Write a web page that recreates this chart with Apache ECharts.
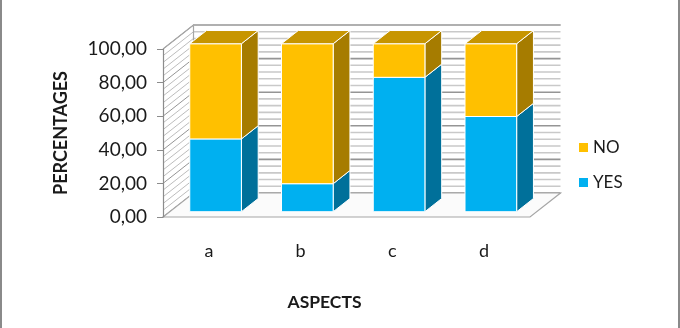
<!DOCTYPE html>
<html>
<head>
<meta charset="utf-8">
<script src="https://cdn.jsdelivr.net/npm/echarts@6/dist/echarts.min.js"></script>
<style>
  html, body { margin: 0; padding: 0; background: #ffffff; }
  #chart { width: 680px; height: 328px; }
</style>
</head>
<body>
<div id="chart"></div>
<script>
// Survey answers per aspect, in percent
const categories = ['a', 'b', 'c', 'd'];
const yesValues = [43.33, 16.67, 80.00, 56.67];
const noValues = [56.67, 83.33, 20.00, 43.33];
const seriesNames = ['NO', 'YES'];

// Pseudo-3D layout: depth vector of the plot box and the bar slab inside it
const DEPTH = [30.5, -24];
const BAR_FRONT = 0.22;   // fraction of depth where the bar front faces sit
const BAR_DEPTH = 0.55;   // fraction of depth taken by a bar
const BAR_RATIO = 0.563;  // bar width relative to a category band

const FONT = 'Lato, "Open Sans", sans-serif';

const chart = echarts.init(document.getElementById('chart'), null, { renderer: 'canvas' });

function fmt(v) {
  return v.toFixed(2).replace('.', ',');
}

// Walls, floor and gridlines of the 3D box
function renderWalls(params, api) {
  const cs = params.coordSys;
  const L = cs.x, R = cs.x + cs.width;
  const dx = DEPTH[0], dy = DEPTH[1];
  const yOf = v => api.coord([0, v])[1];
  const y0 = yOf(0), y100 = yOf(100);
  const children = [];

  // back wall
  children.push({
    type: 'polygon',
    shape: { points: [[L + dx, y100 + dy], [R + dx, y100 + dy], [R + dx, y0 + dy], [L + dx, y0 + dy]] },
    style: { fill: '#ffffff' }
  });
  // left wall
  children.push({
    type: 'polygon',
    shape: { points: [[L, y100], [L + dx, y100 + dy], [L + dx, y0 + dy], [L, y0]] },
    style: { fill: '#ffffff' }
  });
  for (let v = 0; v <= 100; v += 4) {
    const major = v % 20 === 0;
    const y = yOf(v);
    children.push({
      type: 'line',
      shape: { x1: L + dx, y1: y + dy, x2: R + dx, y2: y + dy },
      style: { stroke: major ? '#959595' : '#c9c9c9', lineWidth: 1.6 }
    });
    children.push({
      type: 'line',
      shape: { x1: L, y1: y, x2: L + dx, y2: y + dy },
      style: { stroke: major ? '#959595' : '#bdbdbd', lineWidth: 1 }
    });
  }
  // left wall outline
  children.push({
    type: 'polyline',
    shape: { points: [[L, y100], [L + dx, y100 + dy], [L + dx, y0 + dy]] },
    style: { stroke: '#a6a6a6', lineWidth: 1.2, fill: null }
  });
  children.push({
    type: 'line',
    shape: { x1: L + dx, y1: y100 + dy, x2: R + dx, y2: y100 + dy },
    style: { stroke: '#b0b0b0', lineWidth: 1.5 }
  });
  // floor
  children.push({
    type: 'polygon',
    shape: { points: [[L, y0], [R, y0], [R + dx, y0 + dy], [L + dx, y0 + dy]] },
    style: { fill: '#fbfbfb', stroke: '#a6a6a6', lineWidth: 1.2 }
  });
  return { type: 'group', children: children };
}

// One stacked segment of a 3D bar
function makeBarRenderer(front, side, top, isTop) {
  return function (params, api) {
    const i = api.value(0), v0 = api.value(1), v1 = api.value(2);
    const p0 = api.coord([i, v0]);
    const p1 = api.coord([i, v1]);
    const band = api.size([1, 0])[0];
    const hw = band * BAR_RATIO / 2;
    const fx = DEPTH[0] * BAR_FRONT, fy = DEPTH[1] * BAR_FRONT;
    const sx = DEPTH[0] * BAR_DEPTH, sy = DEPTH[1] * BAR_DEPTH;
    const x1 = p0[0] - hw + fx, x2 = p0[0] + hw + fx;
    const yb = p0[1] + fy, yt = p1[1] + fy;
    const edge = { stroke: '#ffffff', lineWidth: 1 };
    const children = [
      {
        type: 'polygon',
        shape: { points: [[x2, yb], [x2, yt], [x2 + sx, yt + sy], [x2 + sx, yb + sy]] },
        style: Object.assign({ fill: side }, edge)
      },
      {
        type: 'rect',
        shape: { x: x1, y: yt, width: x2 - x1, height: yb - yt },
        style: Object.assign({ fill: front }, edge)
      }
    ];
    if (isTop) {
      children.push({
        type: 'polygon',
        shape: { points: [[x1, yt], [x2, yt], [x2 + sx, yt + sy], [x1 + sx, yt + sy]] },
        style: Object.assign({ fill: top }, edge)
      });
    }
    return { type: 'group', children: children };
  };
}

const yesData = categories.map((c, i) => [i, 0, yesValues[i]]);
const noData = categories.map((c, i) => [i, yesValues[i], yesValues[i] + noValues[i]]);

const option = {
  backgroundColor: '#ffffff',
  animation: false,
  textStyle: { fontFamily: FONT },
  grid: { left: 163, right: 150, top: 49, bottom: 111, containLabel: false },
  legend: {
    data: seriesNames,
    orient: 'vertical',
    left: 574,
    top: 134,
    itemWidth: 9,
    itemHeight: 9,
    itemGap: 18,
    icon: 'rect',
    textStyle: { fontFamily: FONT, fontSize: 17, color: '#1a1a1a' }
  },
  xAxis: {
    type: 'category',
    data: categories,
    boundaryGap: true,
    axisLine: { show: false },
    axisTick: { show: false },
    axisLabel: { margin: 25, fontSize: 18, color: '#1a1a1a', fontFamily: FONT },
    splitLine: { show: false },
    name: 'ASPECTS',
    nameLocation: 'middle',
    nameGap: 76,
    nameTextStyle: { fontSize: 17.5, fontWeight: 'bold', color: '#1a1a1a', fontFamily: FONT, padding: [0, 44, 0, 0] }
  },
  yAxis: {
    type: 'value',
    min: 0,
    max: 100,
    interval: 20,
    axisLine: { show: true, lineStyle: { color: '#8c8c8c', width: 1.2 } },
    axisTick: { show: true, length: 6, lineStyle: { color: '#8c8c8c' } },
    axisLabel: { margin: 16, fontSize: 19, color: '#1a1a1a', fontFamily: FONT, formatter: fmt },
    splitLine: { show: false },
    name: 'PERCENTAGES',
    nameLocation: 'middle',
    nameRotate: 90,
    nameGap: 93,
    nameTextStyle: { fontSize: 18, fontWeight: 'bold', color: '#1a1a1a', fontFamily: FONT }
  },
  graphic: [
    { type: 'rect', left: 0, top: 0, shape: { x: 0, y: 0, width: 2, height: 328 }, style: { fill: '#8a8a8a' }, silent: true },
    { type: 'rect', right: 0, top: 0, shape: { x: 0, y: 0, width: 2, height: 328 }, style: { fill: '#8a8a8a' }, silent: true }
  ],
  series: [
    {
      name: 'walls',
      type: 'custom',
      silent: true,
      z: 0,
      renderItem: renderWalls,
      data: [[0, 0]],
      encode: { x: 0, y: 1 }
    },
    {
      name: 'YES',
      type: 'custom',
      z: 2,
      itemStyle: { color: '#00B0F0' },
      renderItem: makeBarRenderer('#00B0F0', '#00709A', '#0090C4', false),
      data: yesData,
      encode: { x: 0, y: 2 }
    },
    {
      name: 'NO',
      type: 'custom',
      z: 3,
      itemStyle: { color: '#FFC000' },
      renderItem: makeBarRenderer('#FFC000', '#A67C00', '#C79500', true),
      data: noData,
      encode: { x: 0, y: 2 }
    }
  ]
};

chart.setOption(option);
</script>
</body>
</html>
